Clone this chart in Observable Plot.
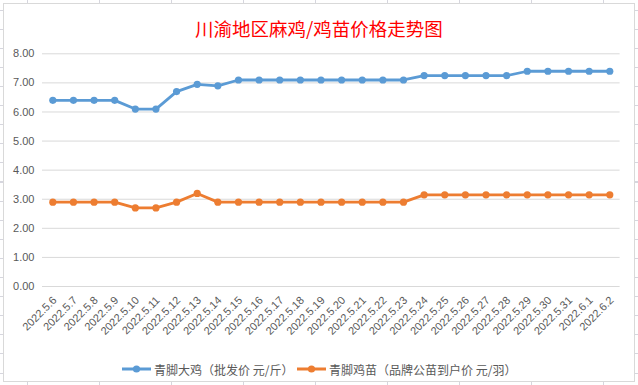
<!DOCTYPE html>
<html>
<head>
<meta charset="utf-8">
<script src="https://cdn.jsdelivr.net/npm/d3@7"></script>
<script src="https://cdn.jsdelivr.net/npm/@observablehq/plot@0.6"></script>
<style>
  html, body { margin: 0; padding: 0; }
  body {
    width: 638px; height: 385px; overflow: hidden; position: relative;
    background-color: #fff;
    background-image:
      repeating-linear-gradient(to right, transparent 0, transparent 27px, #d6d6de 27px, #d6d6de 28px, transparent 28px, transparent 72px),
      repeating-linear-gradient(to bottom, transparent 0, transparent 9.6px, #d6d6de 9.6px, #d6d6de 10.6px, transparent 10.6px, transparent 19.1px);
  }
  #frame {
    position: absolute; left: 3px; top: 3px; width: 630px; height: 377px;
    border: 1px solid #d9d9d9; background: #fff;
  }
  #title {
    position: absolute; left: 0; top: 15px; width: 638px; text-align: center;
    font-family: "Noto Sans CJK SC", sans-serif; font-size: 18.5px; line-height: 26px;
    color: #ff0000;
  }
  #chart { position: absolute; left: 0; top: 0; }
  .leg { position: absolute; top: 360px; height: 18px; display: flex; align-items: center;
    font-family: "Noto Sans CJK SC", sans-serif; font-size: 12px; color: #595959; white-space: pre; }
  .leg svg { margin-right: 2px; }
</style>
</head>
<body>
<div id="frame"></div>
<div id="chart"></div>
<div id="title">川渝地区麻鸡/鸡苗价格走势图</div>
<div class="leg" id="leg1" style="left:122px"></div>
<div class="leg" id="leg2" style="left:297px"></div>
<script>
const dates = ["2022.5.6","2022.5.7","2022.5.8","2022.5.9","2022.5.10","2022.5.11","2022.5.12","2022.5.13","2022.5.14","2022.5.15","2022.5.16","2022.5.17","2022.5.18","2022.5.19","2022.5.20","2022.5.21","2022.5.22","2022.5.23","2022.5.24","2022.5.25","2022.5.26","2022.5.27","2022.5.28","2022.5.29","2022.5.30","2022.5.31","2022.6.1","2022.6.2"];
const bigChicken = [6.4,6.4,6.4,6.4,6.1,6.1,6.7,6.95,6.9,7.1,7.1,7.1,7.1,7.1,7.1,7.1,7.1,7.1,7.25,7.25,7.25,7.25,7.25,7.4,7.4,7.4,7.4,7.4];
const chick = [2.9,2.9,2.9,2.9,2.7,2.7,2.9,3.2,2.9,2.9,2.9,2.9,2.9,2.9,2.9,2.9,2.9,2.9,3.15,3.15,3.15,3.15,3.15,3.15,3.15,3.15,3.15,3.15];
const seriesNames = ["青脚大鸡（批发价 元/斤）", "青脚鸡苗（品牌公苗到户价 元/羽）"];
const colors = ["#5B9BD5", "#ED7D31"];
const yTicks = [0,1,2,3,4,5,6,7,8];

const data = [];
dates.forEach((d, i) => {
  data.push({date: d, value: bigChicken[i], series: seriesNames[0]});
  data.push({date: d, value: chick[i], series: seriesNames[1]});
});

const chart = Plot.plot({
  width: 638,
  height: 350,
  marginLeft: 42,
  marginRight: 18.4,
  marginTop: 53.3,
  marginBottom: 64,
  style: {fontFamily: "'Liberation Sans', Arial, sans-serif", fontSize: "11px", color: "#595959", background: "transparent"},
  x: {type: "band", domain: dates, padding: 0, round: false, label: null},
  y: {domain: [0, 8], label: null},
  color: {domain: seriesNames, range: colors},
  marks: [
    Plot.gridY(yTicks, {stroke: "#d9d9d9", strokeOpacity: 1, strokeWidth: 1}),
    Plot.axisY(yTicks, {tickSize: 0, tickPadding: 8, tickFormat: d => d.toFixed(2), fill: "#595959", fontSize: 11}),
    Plot.axisX({tickSize: 0, tickRotate: -45, tickPadding: 12, dx: 2, fill: "#595959", fontSize: 11}),
    Plot.line(data, {x: "date", y: "value", z: "series", stroke: "series", strokeWidth: 2.8, strokeLinejoin: "round"}),
    Plot.dot(data, {x: "date", y: "value", fill: "series", r: 3.6, stroke: null})
  ]
});
document.getElementById("chart").appendChild(chart);

function legendItem(id, name, color) {
  const el = document.getElementById(id);
  const ns = "http://www.w3.org/2000/svg";
  const svg = document.createElementNS(ns, "svg");
  svg.setAttribute("width", 30); svg.setAttribute("height", 10);
  const ln = document.createElementNS(ns, "line");
  ln.setAttribute("x1", 0); ln.setAttribute("x2", 29); ln.setAttribute("y1", 5); ln.setAttribute("y2", 5);
  ln.setAttribute("stroke", color); ln.setAttribute("stroke-width", 3);
  const c = document.createElementNS(ns, "circle");
  c.setAttribute("cx", 14.5); c.setAttribute("cy", 5); c.setAttribute("r", 3.6); c.setAttribute("fill", color);
  svg.appendChild(ln); svg.appendChild(c);
  el.appendChild(svg);
  el.appendChild(document.createTextNode(name));
}
legendItem("leg1", seriesNames[0], colors[0]);
legendItem("leg2", seriesNames[1], colors[1]);
</script>
</body>
</html>
